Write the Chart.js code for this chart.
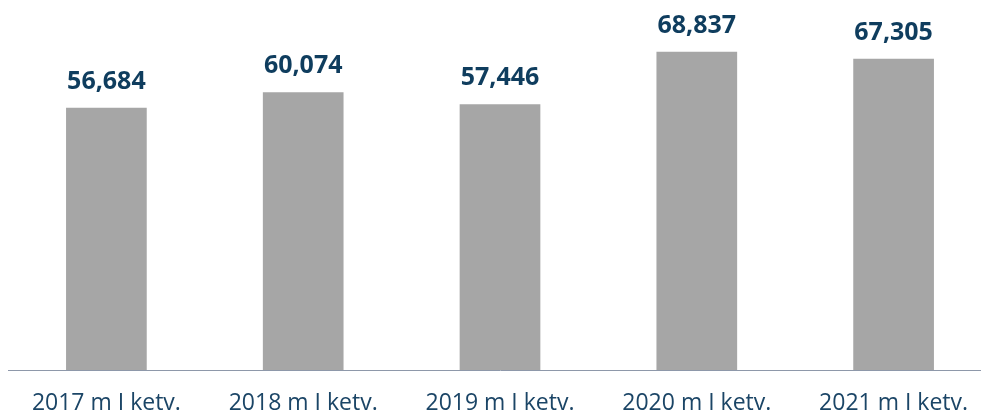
<!DOCTYPE html>
<html>
<head>
<meta charset="utf-8">
<script src="https://cdn.jsdelivr.net/npm/chart.js@4"></script>
<style>
  html, body { margin: 0; padding: 0; background: #ffffff; overflow: hidden; }
  #wrap { position: relative; width: 992px; height: 416px; }
</style>
</head>
<body>
<div id="wrap"><canvas id="c"></canvas></div>
<script>
const categories = ["2017 m I ketv.", "2018 m I ketv.", "2019 m I ketv.", "2020 m I ketv.", "2021 m I ketv."];
const values = [56684, 60074, 57446, 68837, 67305];
const yMin = 0;
const yMax = 80000;

const labelPlugin = {
  id: 'barValueLabels',
  afterDatasetsDraw(chart) {
    const ctx = chart.ctx;
    const meta = chart.getDatasetMeta(0);
    ctx.save();
    ctx.font = 'bold 25px "Open Sans"';
    ctx.fillStyle = '#0f3d5e';
    ctx.textAlign = 'center';
    ctx.textBaseline = 'alphabetic';
    meta.data.forEach((bar, i) => {
      const v = chart.data.datasets[0].data[i];
      ctx.fillText(v.toLocaleString('en-US'), bar.x, bar.y - 19);
    });
    ctx.restore();
  }
};

new Chart(document.getElementById('c'), {
  type: 'bar',
  data: {
    labels: categories,
    datasets: [{
      data: values,
      backgroundColor: '#a6a6a6',
      borderWidth: 0,
      barPercentage: 0.41,
      categoryPercentage: 1.0
    }]
  },
  options: {
    responsive: true,
    maintainAspectRatio: false,
    animation: false,
    layout: { padding: { left: 8, right: 0, top: 0, bottom: 0 } },
    plugins: { legend: { display: false }, tooltip: { enabled: false } },
    scales: {
      x: {
        grid: { display: false, drawTicks: false },
        border: { display: true, color: '#8e98aa', width: 1 },
        ticks: {
          color: '#1b4566',
          font: { family: '"Open Sans"', size: 23 },
          padding: 20,
          maxRotation: 0,
          autoSkip: false
        },
        afterFit(scale) { scale.height = 46; }
      },
      y: {
        display: false,
        min: yMin,
        max: yMax
      }
    }
  },
  plugins: [labelPlugin]
});
</script>
</body>
</html>
